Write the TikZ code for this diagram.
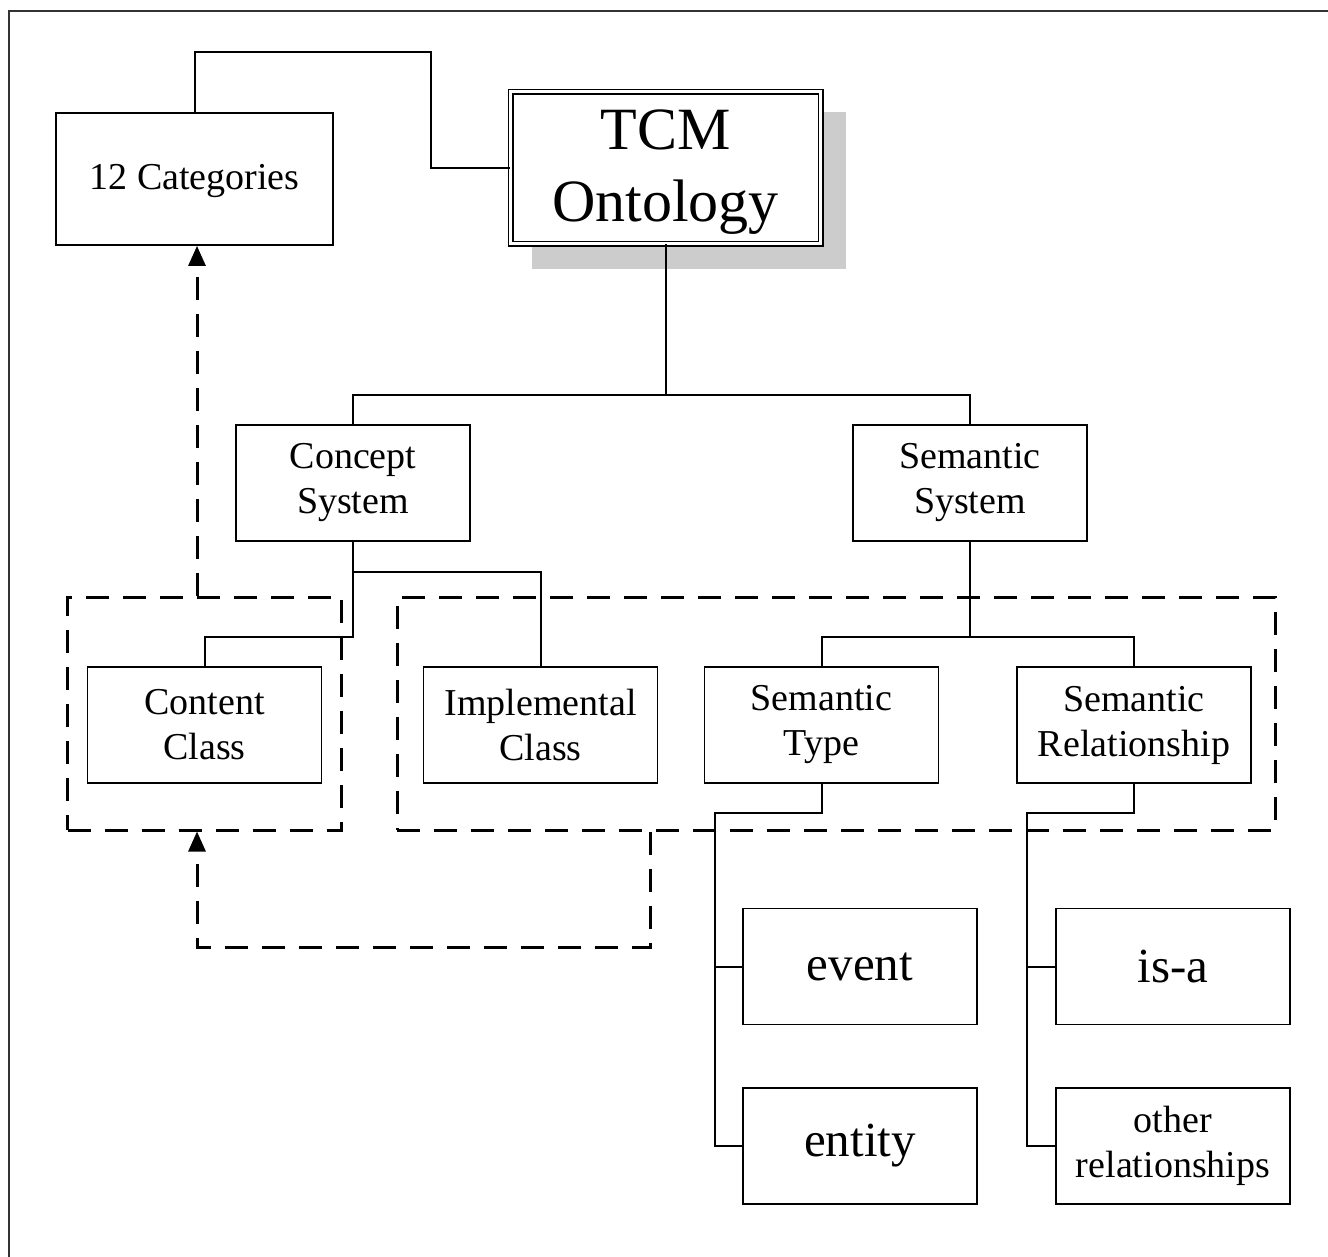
\documentclass[tikz,border=0pt]{standalone}
\usepackage{fontspec}
\setmainfont{Liberation Serif}
\usetikzlibrary{arrows.meta,calc}
\begin{document}
\begin{tikzpicture}[x=1pt,y=-1pt,
  box/.style={draw=black,line width=1.8pt,fill=white,inner sep=0pt,align=center,
    font=\fontsize{38}{45}\selectfont,minimum width=234pt,minimum height=116pt},
  bigbox/.style={box,font=\fontsize{49}{56}\selectfont},
  conn/.style={draw=black,line width=2pt},
  dashbox/.style={draw=black,line width=3pt,dash pattern=on 23pt off 14pt,inner sep=0pt,fill=none},
  dasharrow/.style={draw=black,line width=3pt,dash pattern=on 23pt off 14pt,-{Triangle[length=20pt,width=17pt]}}
]
\useasboundingbox (0,0) rectangle (1328,1256);
\fill[white] (0,0) rectangle (1328,1256);
% outer frame
\draw[black!80,line width=2.5pt] (9,1270) -- (9,11) -- (1340,11);

% shadow of the root
\fill[black!20] (532,112) rectangle (846,269);

% nodes
\node[box,minimum width=277pt,minimum height=132pt] (cat) at (194.5,179) {};
\node[inner sep=0pt,font=\fontsize{38}{45}\selectfont] (catlbl) at ($(cat.center)+(0,2)$) {12 Categories};
\node[draw=black,line width=1.4pt,double,double distance=3.2pt,fill=white,inner sep=0pt,
  minimum width=310pt,minimum height=152pt] (tcm) at (665.5,167.5) {};
\node[align=center,inner sep=0pt,font=\fontsize{60}{72}\selectfont] (tcmlbl) at ($(tcm.center)+(0,5)$) {TCM\\Ontology};

\node[box] (cs) at (353,483) {Concept\\System};
\node[box] (ss) at (970,483) {Semantic\\System};

\node[dashbox,minimum width=274pt,minimum height=233pt] (dg1) at (204.5,713.5) {};
\node[dashbox,minimum width=878pt,minimum height=233pt] (dg2) at (836,713.5) {};

\node[box] (cc) at (204.5,725) {Content\\Class};
\node[box] (ic) at (540.5,725) {Implemental\\Class};
\node[box] (st) at (821.5,725) {Semantic\\Type};
\node[box] (sr) at (1134,725) {Semantic\\Relationship};

\node[bigbox] (ev) at (860,966.5) {event};
\node[bigbox] (en) at (860,1146) {entity};
\node[bigbox] (isa) at (1173,966.5) {is-a};
\node[box] (oth) at (1173,1146) {other\\relationships};

% junction points
\coordinate (jA) at (431,52);
\coordinate (busA) at (665.5,395);
\coordinate (busB) at (353,572);
\coordinate (busC) at (353,637);
\coordinate (busD) at (970,637);
\coordinate (busE) at (715,813);
\coordinate (busF) at (1027,813);

% solid connectors
\draw[conn] (cat.north) |- (jA) |- (tcm.west);
\draw[conn] (tcm.south) -- (busA);
\draw[conn] (cs.north) |- (busA) -| (ss.north);
\draw[conn] (cs.south) -- (busB) -| (ic.north);
\draw[conn] (busB) -- (busC) -| (cc.north);
\draw[conn] (ss.south) -- (busD);
\draw[conn] (st.north) |- (busD) -| (sr.north);
\draw[conn] (st.south) |- (busE) |- (en.west);
\draw[conn] (busE) |- (ev.west);
\draw[conn] (sr.south) |- (busF) |- (oth.west);
\draw[conn] (busF) |- (isa.west);

% dashed arrows
\coordinate (dTop) at (dg1.north -| 197,0);
\coordinate (dBot) at (dg1.south -| 197,0);
\coordinate (dStart) at (dg2.south -| 650,0);
\coordinate (dCorner) at (650,947);
\draw[dasharrow] (dTop) -- (dTop |- cat.south);
\draw[dasharrow] (dStart) -- (dCorner) -| (dBot);
\end{tikzpicture}
\end{document}
